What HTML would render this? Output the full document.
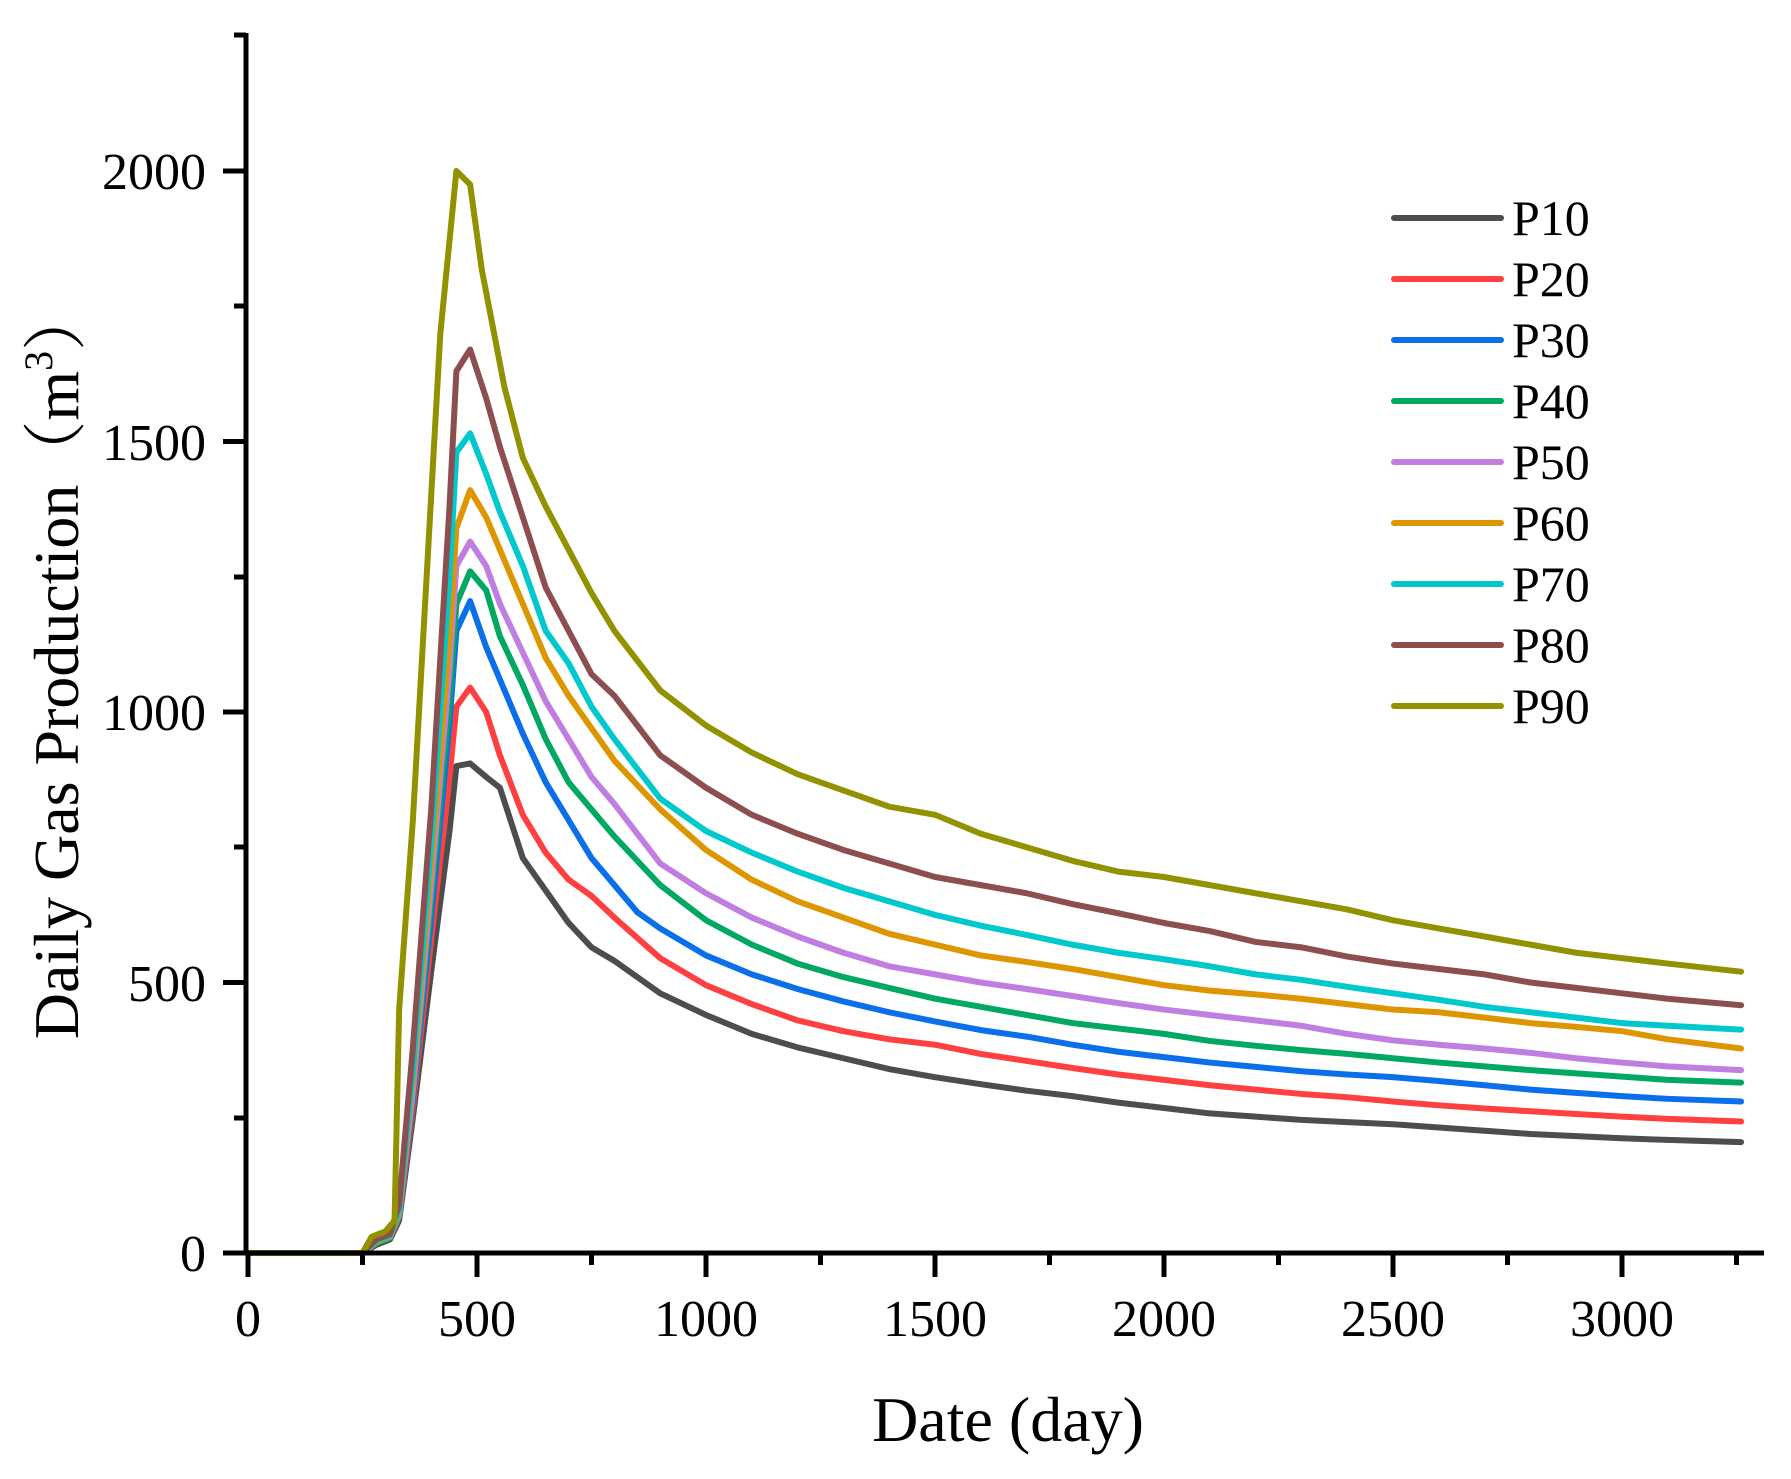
<!DOCTYPE html>
<html><head><meta charset="utf-8"><style>
html,body{margin:0;padding:0;background:#fff;}
svg{display:block;font-family:"Liberation Serif","Noto Serif CJK SC",serif;}
</style></head><body>
<svg width="1791" height="1479" viewBox="0 0 1791 1479" xmlns="http://www.w3.org/2000/svg">
<rect width="1791" height="1479" fill="#fff"/>
<g fill="none" stroke-linejoin="round" stroke-linecap="round" transform="translate(248,1253) scale(0.458,-0.541)">
<polyline vector-effect="non-scaling-stroke" stroke="#4d4d4d" stroke-width="6" points="0,0 250,0 280,15 310,25 330,60 360,250 400,520 440,780 455,900 485,905 520,880 550,860 600,730 650,670 700,610 750,565 800,540 900,480 1000,440 1100,405 1200,380 1300,360 1400,340 1500,325 1600,312 1700,300 1800,290 1900,278 2000,268 2100,258 2200,252 2300,246 2400,242 2500,238 2600,232 2700,226 2800,220 2900,216 3000,212 3100,209 3260,205"/>
<polyline vector-effect="non-scaling-stroke" stroke="#ff4040" stroke-width="6" points="0,0 250,0 280,18 310,28 330,65 360,270 400,580 440,880 455,1010 485,1045 520,1000 550,920 600,810 650,740 700,690 750,660 800,620 900,545 1000,495 1100,460 1200,430 1300,410 1400,395 1500,385 1600,368 1700,355 1800,342 1900,330 2000,320 2100,310 2200,302 2300,294 2400,288 2500,280 2600,273 2700,267 2800,262 2900,257 3000,252 3100,248 3260,243"/>
<polyline vector-effect="non-scaling-stroke" stroke="#0a6fe8" stroke-width="6" points="0,0 250,0 280,18 310,28 330,68 360,285 400,620 440,980 455,1150 485,1205 520,1120 550,1060 600,960 650,870 700,800 750,730 800,680 850,630 900,600 1000,550 1100,515 1200,488 1300,465 1400,445 1500,428 1600,412 1700,400 1800,385 1900,372 2000,362 2100,352 2200,344 2300,336 2400,330 2500,325 2600,318 2700,310 2800,302 2900,296 3000,290 3100,285 3260,280"/>
<polyline vector-effect="non-scaling-stroke" stroke="#00a862" stroke-width="6" points="0,0 250,0 280,18 310,28 330,70 360,295 400,650 440,1020 455,1200 485,1260 520,1225 550,1140 600,1050 650,950 700,870 750,820 800,770 900,680 1000,615 1100,570 1200,535 1300,510 1400,490 1500,470 1600,455 1700,440 1800,425 1900,415 2000,405 2100,392 2200,383 2300,375 2400,368 2500,360 2600,352 2700,345 2800,338 2900,332 3000,326 3100,320 3260,315"/>
<polyline vector-effect="non-scaling-stroke" stroke="#c07ee0" stroke-width="6" points="0,0 250,0 280,20 310,30 330,72 360,300 400,680 440,1080 455,1270 485,1315 520,1270 550,1200 600,1110 650,1020 700,950 750,880 800,830 900,720 1000,665 1100,620 1200,585 1300,555 1400,530 1500,515 1600,500 1700,488 1800,475 1900,462 2000,450 2100,440 2200,430 2300,420 2400,405 2500,393 2600,385 2700,378 2800,370 2900,360 3000,352 3100,345 3260,338"/>
<polyline vector-effect="non-scaling-stroke" stroke="#dd9600" stroke-width="6" points="0,0 250,0 280,20 310,30 330,75 360,320 400,720 440,1140 455,1340 485,1410 520,1360 550,1300 600,1200 650,1100 700,1030 750,970 800,910 900,820 1000,745 1100,690 1200,650 1300,620 1400,590 1500,570 1600,550 1700,538 1800,525 1900,510 2000,495 2100,485 2200,478 2300,470 2400,460 2500,450 2600,445 2700,435 2800,425 2900,418 3000,410 3100,395 3260,378"/>
<polyline vector-effect="non-scaling-stroke" stroke="#00c8cc" stroke-width="6" points="0,0 250,0 280,22 310,32 330,80 360,340 400,760 440,1250 455,1480 485,1515 520,1440 550,1370 600,1270 650,1150 700,1090 750,1010 800,950 900,840 1000,780 1100,740 1200,705 1300,675 1400,650 1500,625 1600,605 1700,588 1800,570 1900,555 2000,543 2100,530 2200,515 2300,505 2400,492 2500,480 2600,468 2700,455 2800,445 2900,435 3000,425 3100,420 3260,413"/>
<polyline vector-effect="non-scaling-stroke" stroke="#8c4e4e" stroke-width="6" points="0,0 250,0 280,25 310,35 330,90 360,380 400,820 440,1380 455,1630 485,1670 520,1580 550,1490 600,1360 650,1230 700,1150 750,1070 800,1030 900,920 1000,860 1100,810 1200,775 1300,745 1400,720 1500,695 1600,680 1700,665 1800,645 1900,628 2000,610 2100,595 2200,575 2300,565 2400,548 2500,535 2600,525 2700,515 2800,500 2900,490 3000,480 3100,470 3260,458"/>
<polyline vector-effect="non-scaling-stroke" stroke="#929100" stroke-width="6" points="0,0 250,0 270,30 300,40 320,60 330,450 360,800 420,1700 455,2000 485,1975 510,1820 560,1600 600,1470 650,1380 700,1300 750,1220 800,1150 900,1040 1000,975 1100,925 1200,885 1300,855 1400,825 1500,810 1600,775 1700,750 1800,725 1900,705 2000,695 2100,680 2200,665 2300,650 2400,635 2500,615 2600,600 2700,585 2800,570 2900,555 3000,545 3100,535 3260,520"/>
</g>
<g stroke="#000" stroke-width="5" fill="none">
<line x1="246" y1="33" x2="246" y2="1255"/>
<line x1="244" y1="1253" x2="1764" y2="1253"/>
<line x1="223" y1="171" x2="246" y2="171"/>
<line x1="223" y1="441.5" x2="246" y2="441.5"/>
<line x1="223" y1="712" x2="246" y2="712"/>
<line x1="223" y1="982.5" x2="246" y2="982.5"/>
<line x1="223" y1="1253" x2="246" y2="1253"/>
<line x1="234" y1="35" x2="246" y2="35"/>
<line x1="234" y1="306" x2="246" y2="306"/>
<line x1="234" y1="577" x2="246" y2="577"/>
<line x1="234" y1="847" x2="246" y2="847"/>
<line x1="234" y1="1118" x2="246" y2="1118"/>
<line x1="248" y1="1253" x2="248" y2="1277"/>
<line x1="477" y1="1253" x2="477" y2="1277"/>
<line x1="706" y1="1253" x2="706" y2="1277"/>
<line x1="935" y1="1253" x2="935" y2="1277"/>
<line x1="1164" y1="1253" x2="1164" y2="1277"/>
<line x1="1393" y1="1253" x2="1393" y2="1277"/>
<line x1="1622" y1="1253" x2="1622" y2="1277"/>
<line x1="362.5" y1="1253" x2="362.5" y2="1265"/>
<line x1="591.5" y1="1253" x2="591.5" y2="1265"/>
<line x1="820.5" y1="1253" x2="820.5" y2="1265"/>
<line x1="1049.5" y1="1253" x2="1049.5" y2="1265"/>
<line x1="1278.5" y1="1253" x2="1278.5" y2="1265"/>
<line x1="1507.5" y1="1253" x2="1507.5" y2="1265"/>
<line x1="1736.5" y1="1253" x2="1736.5" y2="1265"/>
</g>
<g font-size="52" fill="#000" text-anchor="end">
<text x="206" y="189">2000</text>
<text x="206" y="460">1500</text>
<text x="206" y="730">1000</text>
<text x="206" y="1001">500</text>
<text x="206" y="1271">0</text>
</g>
<g font-size="52" fill="#000" text-anchor="middle">
<text x="248" y="1336">0</text>
<text x="477" y="1336">500</text>
<text x="706" y="1336">1000</text>
<text x="935" y="1336">1500</text>
<text x="1164" y="1336">2000</text>
<text x="1393" y="1336">2500</text>
<text x="1622" y="1336">3000</text>
</g>
<text x="1008" y="1441" font-size="64" text-anchor="middle">Date (day)</text>
<text transform="translate(78,663) rotate(-90)" font-size="64" text-anchor="middle">Daily Gas Production（m<tspan font-size="40" dy="-26">3</tspan><tspan dy="26">）</tspan></text>
<g stroke-width="6" stroke-linecap="round">
<line x1="1394" y1="218" x2="1501" y2="218" stroke="#4d4d4d"/>
<line x1="1394" y1="279" x2="1501" y2="279" stroke="#ff4040"/>
<line x1="1394" y1="340" x2="1501" y2="340" stroke="#0a6fe8"/>
<line x1="1394" y1="401" x2="1501" y2="401" stroke="#00a862"/>
<line x1="1394" y1="462" x2="1501" y2="462" stroke="#c07ee0"/>
<line x1="1394" y1="523" x2="1501" y2="523" stroke="#dd9600"/>
<line x1="1394" y1="584" x2="1501" y2="584" stroke="#00c8cc"/>
<line x1="1394" y1="645" x2="1501" y2="645" stroke="#8c4e4e"/>
<line x1="1394" y1="706" x2="1501" y2="706" stroke="#929100"/>
</g>
<g font-size="50" fill="#000">
<text x="1512" y="235">P10</text>
<text x="1512" y="296">P20</text>
<text x="1512" y="357">P30</text>
<text x="1512" y="418">P40</text>
<text x="1512" y="479">P50</text>
<text x="1512" y="540">P60</text>
<text x="1512" y="601">P70</text>
<text x="1512" y="662">P80</text>
<text x="1512" y="723">P90</text>
</g>
</svg>
</body></html>
